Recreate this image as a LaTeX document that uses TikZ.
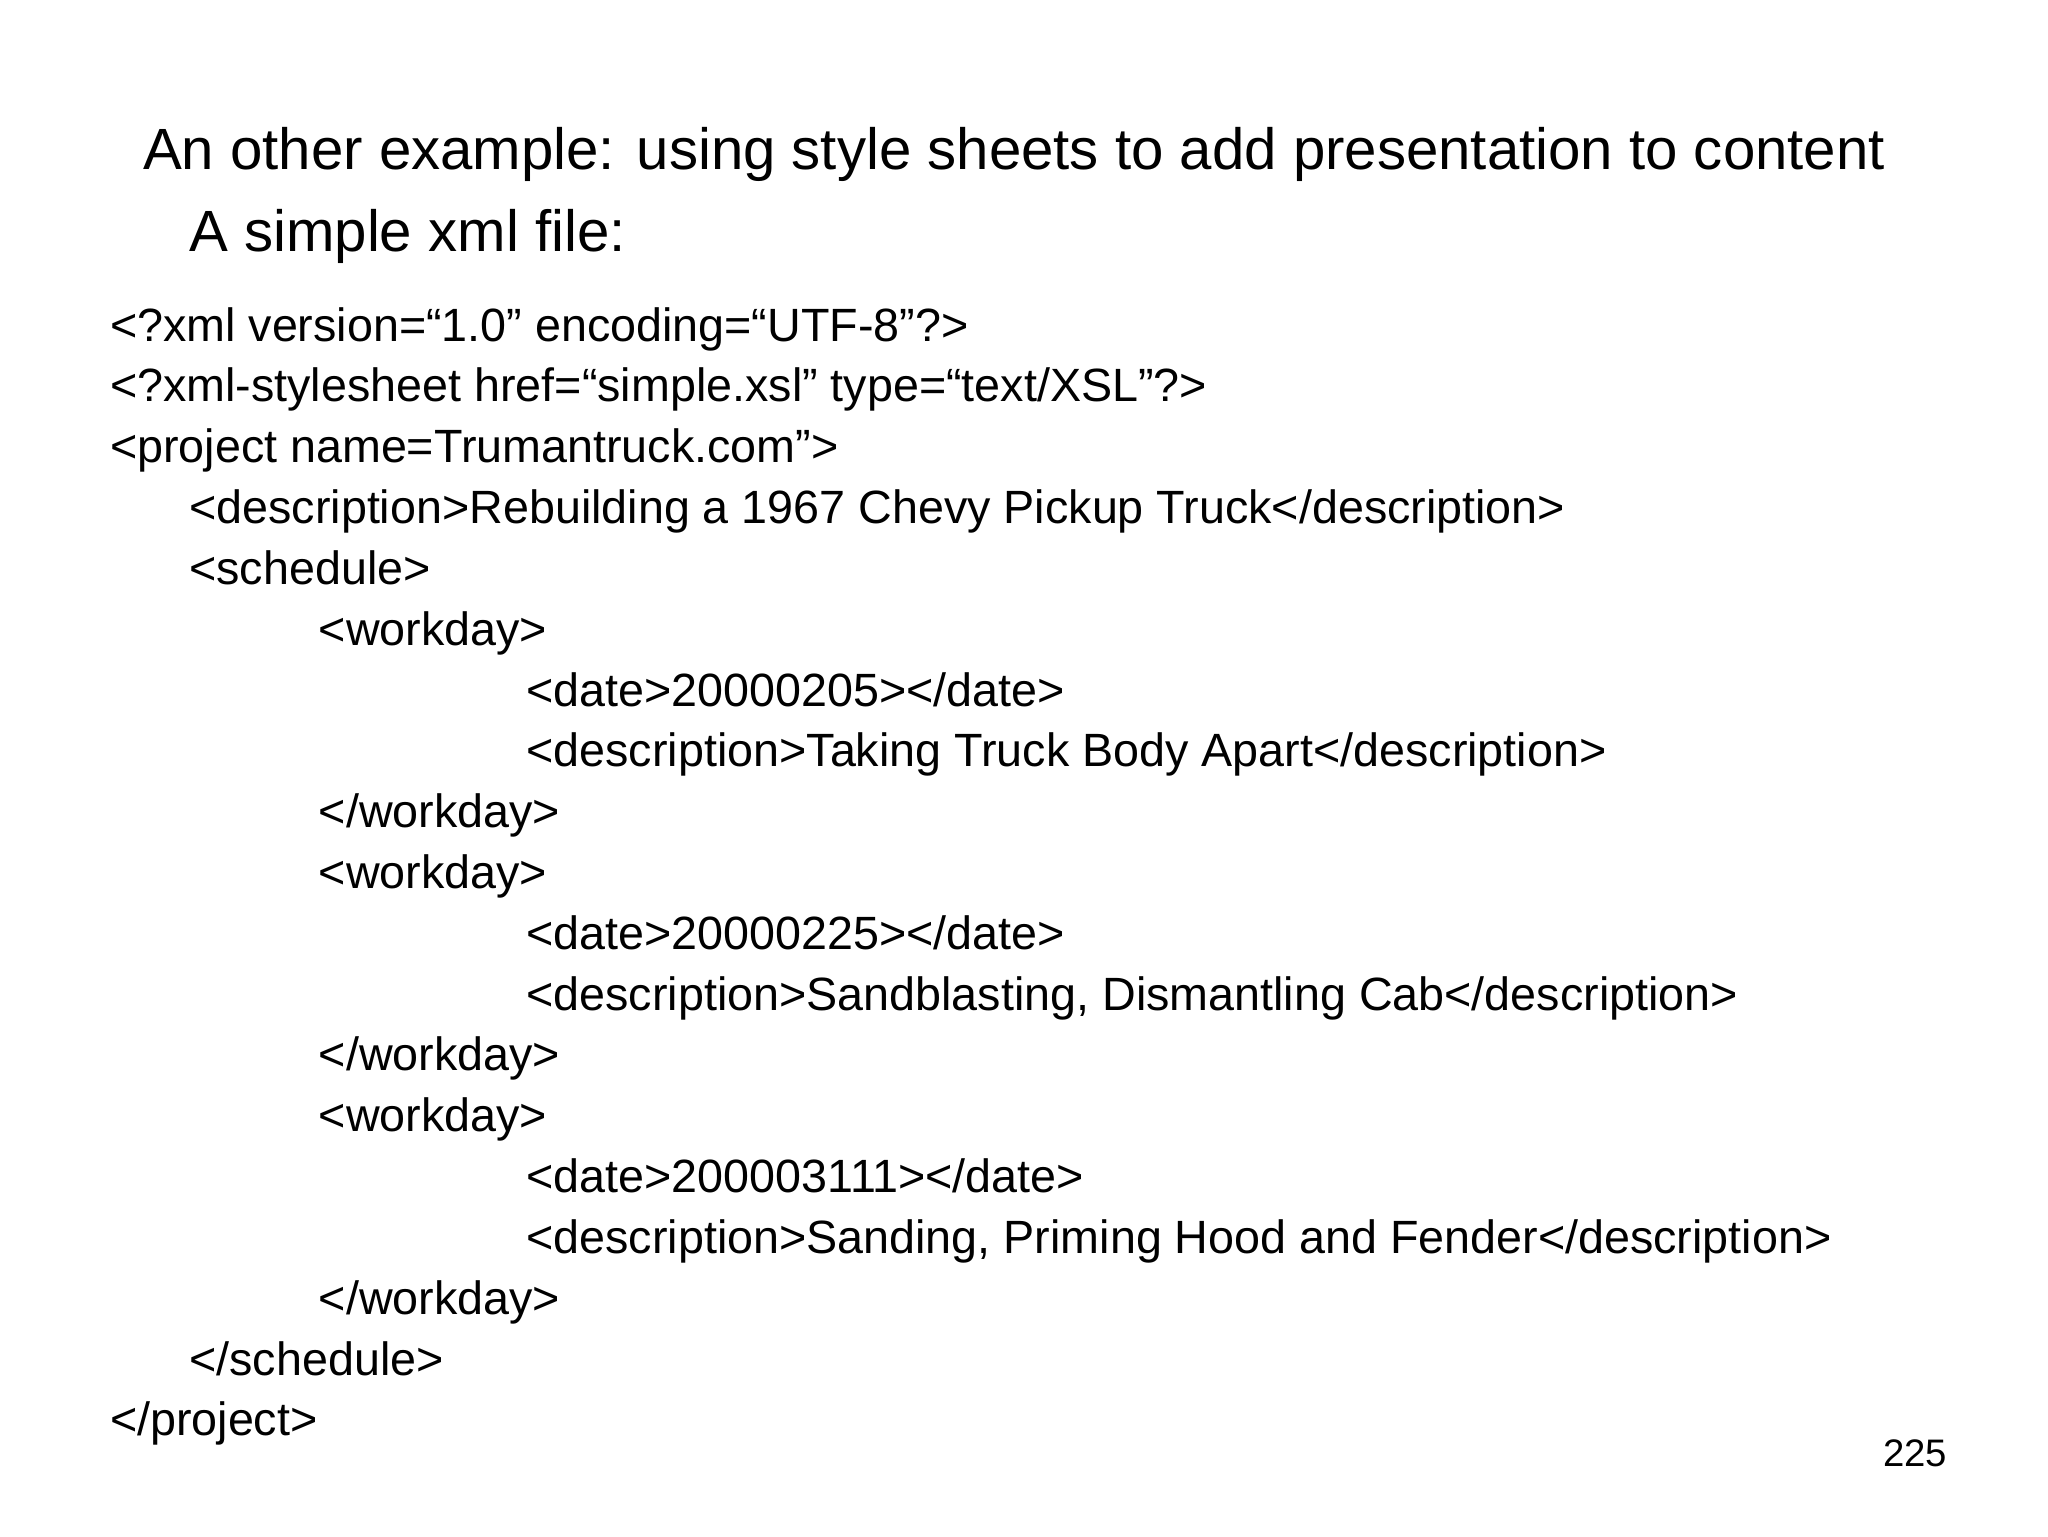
\documentclass[tikz,border=0pt]{standalone}
\usepackage{fontspec}
\setmainfont{Liberation Sans}
\begin{document}
\begin{tikzpicture}[x=1pt,y=-1pt,
  title/.style={anchor=base west,inner sep=0pt,font=\fontsize{44}{50}\selectfont},
  code/.style={anchor=base west,inner sep=0pt,font=\fontsize{35.3}{40}\selectfont}]
\useasboundingbox (0,0) rectangle (1549,1162);
\node[title] (t1) at (108,128) {An other example: using style sheets to add presentation to content};
\node[title] (t2) at (143,190) {A simple xml file:};
\node[code] (l1) at (83,258) {<?xml version=“1.0” encoding=“UTF-8”?>};
\node[code] (l2) at (83,304) {<?xml-stylesheet href=“simple.xsl” type=“text/XSL”?>};
\node[code] (l3) at (83,350) {<project name=Trumantruck.com”>};
\node[code] (l4) at (143,396) {<description>Rebuilding a 1967 Chevy Pickup Truck</description>};
\node[code] (l5) at (143,442) {<schedule>};
\node[code] (l6) at (241,488) {<workday>};
\node[code] (l7) at (398,534) {<date>20000205></date>};
\node[code] (l8) at (398,580) {<description>Taking Truck Body Apart</description>};
\node[code] (l9) at (241,626) {</workday>};
\node[code] (l10) at (241,672) {<workday>};
\node[code] (l11) at (398,718) {<date>20000225></date>};
\node[code] (l12) at (398,764) {<description>Sandblasting, Dismantling Cab</description>};
\node[code] (l13) at (241,810) {</workday>};
\node[code] (l14) at (241,856) {<workday>};
\node[code] (l15) at (398,902) {<date>200003111></date>};
\node[code] (l16) at (398,948) {<description>Sanding, Priming Hood and Fender</description>};
\node[code] (l17) at (241,994) {</workday>};
\node[code] (l18) at (143,1040) {</schedule>};
\node[code] (l19) at (83,1086) {</project>};
\node[anchor=base east,inner sep=0pt,font=\fontsize{29}{33}\selectfont] (pg) at (1473,1109) {225};
\end{tikzpicture}
\end{document}
